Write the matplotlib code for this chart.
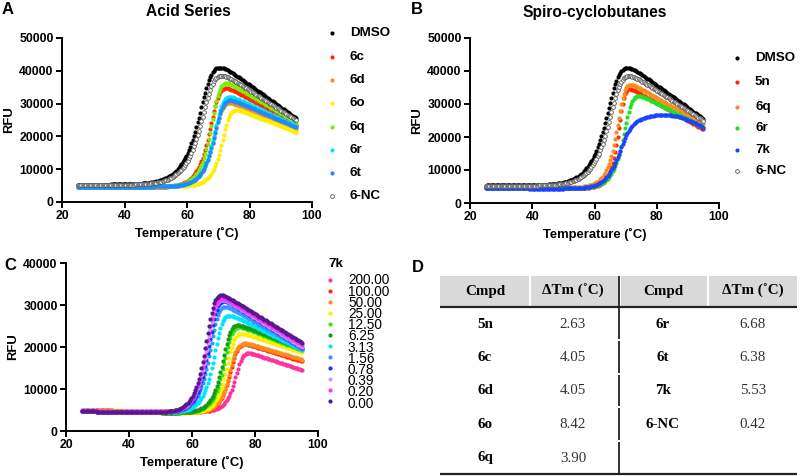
import numpy as np
import matplotlib
matplotlib.use("Agg")
import matplotlib.pyplot as plt
from matplotlib.lines import Line2D
from matplotlib.patches import Rectangle

plt.rcParams['font.family'] = ['Liberation Sans', 'DejaVu Sans']

# ---------------- data ----------------
temps = np.round(np.arange(25.0, 95.0001, 0.4), 2)

# Panel A: Acid series (melt-curve parameters)
a_names = ["DMSO", "6c", "6d", "6o", "6q", "6r", "6t", "6-NC"]
a_base = [5300, 4500, 4600, 4800, 4700, 4700, 4700, 5200]
a_mid = [66.4, 69.0, 70.1, 72.6, 69.3, 70.3, 70.3, 67.0]
a_width = [1.65, 1.2, 1.15, 1.0, 1.1, 1.15, 1.15, 1.6]
a_end = [25500, 23600, 22400, 21300, 24300, 23100, 22800, 24900]
a_slope = [680, 520, 385, 370, 560, 445, 410, 610]

# Panel B: Spiro-cyclobutanes
b_names = ["DMSO", "5n", "6q", "6r", "7k", "6-NC"]
b_base = [5300, 4500, 4700, 4500, 4400, 5200]
b_mid = [66.4, 68.75, 68.6, 70.9, 69.3, 67.0]
b_width = [1.65, 0.8, 1.0, 1.1, 1.5, 1.6]
b_end = [25500, 22300, 23800, 23000, 22800, 24900]
b_slope = [680, 535, 540, 480, 600, 610]
b_curv = [0, 0, 0, 0, 23.0, 0]

# Panel C: 7k concentration series
c_conc = ["200.00", "100.00", "50.00", "25.00", "12.50", "6.25",
          "3.13", "1.56", "0.78", "0.39", "0.20", "0.00"]
c_base = [5000, 4800, 4800, 4700, 4700, 4700, 4700, 4700, 4700, 4700, 4700, 4700]
c_mid = [75.0, 73.4, 73.3, 72.4, 71.6, 71.1, 68.5, 67.2, 66.8, 66.3, 66.15, 65.9]
c_width = [0.93, 1.0, 1.0, 1.0, 1.05, 1.05, 1.1, 1.1, 1.1, 1.1, 1.1, 1.1]
c_end = [14500, 16600, 17000, 18700, 19200, 19500, 19300, 19500, 19800, 20000, 20500, 21000]
c_slope = [250, 234, 223, 242, 290, 293, 373, 430, 467, 465, 452, 460]

# Panel D: table
d_cmpd_left = ["5n", "6c", "6d", "6o", "6q"]
d_dtm_left = ["2.63", "4.05", "4.05", "8.42", "3.90"]
d_cmpd_right = ["6r", "6t", "7k", "6-NC", ""]
d_dtm_right = ["6.68", "6.38", "5.53", "0.42", ""]

# ---------------- styles ----------------
a_colors = ["black", "#ff2a00", "#ff8c1a", "#ffee00", "#80ee00", "#00e5ff", "#1a8cff", "none"]
b_colors = ["black", "#ff2a00", "#ff8c1a", "#22e022", "#1a44ff", "none"]
c_colors = ["#ff3399", "#ff2a00", "#ff8c1a", "#ffee00", "#33ee00", "#189918",
            "#00e5ff", "#3399ff", "#1a33ff", "#cc99ff", "#ff33ff", "#551a8b"]

DOT = 3.0
RING = 2.7


def melt(T, base, mid, width, end, slope, curv=0.0, nu=0.4, bslope=0.0):
    b = base + bslope * (T - 25)
    top = end + slope * (95 - T) - curv * (95 - T) ** 2
    f = (1 + np.exp(-(T - mid) / width)) ** (-nu)
    return b + (top - b) * f


W, H = 800, 476
fig = plt.figure(figsize=(8.0, 4.76), dpi=100)


def fx(px):
    return px / W


def fy(py):
    return 1 - py / H


def style_axes(ax, ymax, ystep):
    ax.set_xlim(20, 100)
    ax.set_ylim(0, ymax)
    ax.set_xticks(range(20, 101, 20))
    ax.set_yticks(range(0, ymax + 1, ystep))
    for s in ["top", "right"]:
        ax.spines[s].set_visible(False)
    for s in ["left", "bottom"]:
        ax.spines[s].set_linewidth(1.4)
    ax.tick_params(direction="out", length=4, width=1.4, labelsize=8.8, pad=2)
    for lab in ax.get_xticklabels() + ax.get_yticklabels():
        lab.set_fontweight("bold")
    ax.set_xlabel("Temperature (˚C)", fontsize=9.4, fontweight="bold", labelpad=3)
    ax.set_ylabel("RFU", fontsize=9.4, fontweight="bold", labelpad=3)
    ax.patch.set_alpha(0)


def draw_series(ax, y, color, open_marker=False):
    if open_marker:
        ax.plot(temps, y, "o", ms=RING, mfc="white", mec="#555555", mew=0.6,
                linestyle="none", clip_on=False)
    else:
        ax.plot(temps, y, "o", ms=DOT, mew=0, color=color, linestyle="none", clip_on=False)


def legend_manual(names, colors, xm, xt, ys, fontsize=9.6, weight="bold"):
    for n, col, yy in zip(names, colors, ys):
        if col == "none":
            fig.add_artist(Line2D([fx(xm)], [fy(yy)], marker="o", ms=RING, mfc="white",
                                  mec="#555555", mew=0.6, linestyle="none",
                                  transform=fig.transFigure))
        else:
            fig.add_artist(Line2D([fx(xm)], [fy(yy)], marker="o", ms=DOT, mew=0,
                                  color=col, linestyle="none", transform=fig.transFigure))
        fig.text(fx(xt), fy(yy), n, fontsize=fontsize, fontweight=weight,
                 va="center", ha="left")


# ---------------- Panel A ----------------
axA = fig.add_axes([fx(62), fy(202), fx(312) - fx(62), fy(38) - fy(202)])
style_axes(axA, 50000, 10000)
for i in range(len(a_names)):
    y = melt(temps, a_base[i], a_mid[i], a_width[i], a_end[i], a_slope[i])
    draw_series(axA, y, a_colors[i], open_marker=(a_names[i] == "6-NC"))
fig.text(fx(188), fy(12), "Acid Series", fontsize=11.2, fontweight="bold", ha="center", va="center")
legend_manual(a_names, a_colors, 332, 350, [33, 57, 80, 103, 127, 150, 173, 196])

# ---------------- Panel B ----------------
axB = fig.add_axes([fx(470), fy(203), fx(719) - fx(470), fy(38) - fy(203)])
style_axes(axB, 50000, 10000)
for i in range(len(b_names)):
    y = melt(temps, b_base[i], b_mid[i], b_width[i], b_end[i], b_slope[i], b_curv[i])
    draw_series(axB, y, b_colors[i], open_marker=(b_names[i] == "6-NC"))
fig.text(fx(595), fy(12), "Spiro-cyclobutanes", fontsize=11.2, fontweight="bold", ha="center", va="center")
legend_manual(b_names, b_colors, 737, 755, [58, 82, 107, 128, 150, 171])

# ---------------- Panel C ----------------
axC = fig.add_axes([fx(66), fy(431), fx(318) - fx(66), fy(263) - fy(431)])
style_axes(axC, 40000, 10000)
for i in range(len(c_conc)):
    y = melt(temps, c_base[i], c_mid[i], c_width[i], c_end[i], c_slope[i], bslope=-12)
    draw_series(axC, y, c_colors[i])
fig.text(fx(328), fy(264), "7k", fontsize=9.6, fontweight="bold", ha="left", va="center")
c_leg_y = [280 + 11 * k for k in range(len(c_conc))]
for col, yy in zip(c_colors, c_leg_y):
    fig.add_artist(Line2D([fx(330)], [fy(yy)], marker="o", ms=DOT, mew=0,
                          color=col, linestyle="none", transform=fig.transFigure))
fig.text(fx(348), fy(c_leg_y[0] - 6.5), "\n".join(c_conc), fontsize=9.8,
         fontweight="normal", ha="left", va="top", linespacing=0.745)

# ---------------- Panel letters ----------------
for letter, (px, py) in zip("ABCD", [(2, 9), (411, 9), (4, 266), (412, 267)]):
    fig.text(fx(px), fy(py), letter, fontsize=12, fontweight="bold", ha="left", va="center")

# ---------------- Panel D: table ----------------
axT = fig.add_axes([0, 0, 1, 1])
axT.set_xlim(0, W)
axT.set_ylim(H, 0)
axT.axis("off")
axT.patch.set_alpha(0)

serif = ["Liberation Serif", "DejaVu Serif"]
col_edges = [(440, 529), (531, 618), (621, 707), (709, 797)]
col_centers = [485, 573, 663, 753]
for (x0, x1) in col_edges:
    axT.add_patch(Rectangle((x0, 276), x1 - x0, 30.5, facecolor="#d9d9d9", edgecolor="none"))
axT.plot([440, 797], [307, 307], color="#222222", lw=1.6, solid_capstyle="butt")
axT.plot([440, 797], [474, 474], color="#222222", lw=1.6, solid_capstyle="butt")
seg_edges = [276, 340, 374, 407, 441, 474]
for k in range(len(seg_edges) - 1):
    y0 = seg_edges[k] + (1 if k > 0 else 0)
    y1 = seg_edges[k + 1] - 1
    axT.plot([619, 619], [y0, y1], color="#222222", lw=1.3, solid_capstyle="butt")

headers = ["Cmpd", "ΔTm (˚C)", "Cmpd", "ΔTm (˚C)"]
for h, cx in zip(headers, col_centers):
    axT.text(cx, 291, h, family=serif, fontsize=10.8, fontweight="bold", ha="center", va="center")
row_y = [324, 357.5, 390.5, 424.5, 458]
for r, yy in enumerate(row_y):
    axT.text(col_centers[0], yy, d_cmpd_left[r], family=serif, fontsize=10.8,
             fontweight="bold", ha="center", va="center")
    axT.text(col_centers[1], yy, d_dtm_left[r], family=serif, fontsize=10.8,
             ha="center", va="center", color="#333333")
    if d_cmpd_right[r]:
        axT.text(col_centers[2], yy, d_cmpd_right[r], family=serif, fontsize=10.8,
                 fontweight="bold", ha="center", va="center")
        axT.text(col_centers[3], yy, d_dtm_right[r], family=serif, fontsize=10.8,
                 ha="center", va="center", color="#333333")

fig.savefig("out.png", dpi=100)
